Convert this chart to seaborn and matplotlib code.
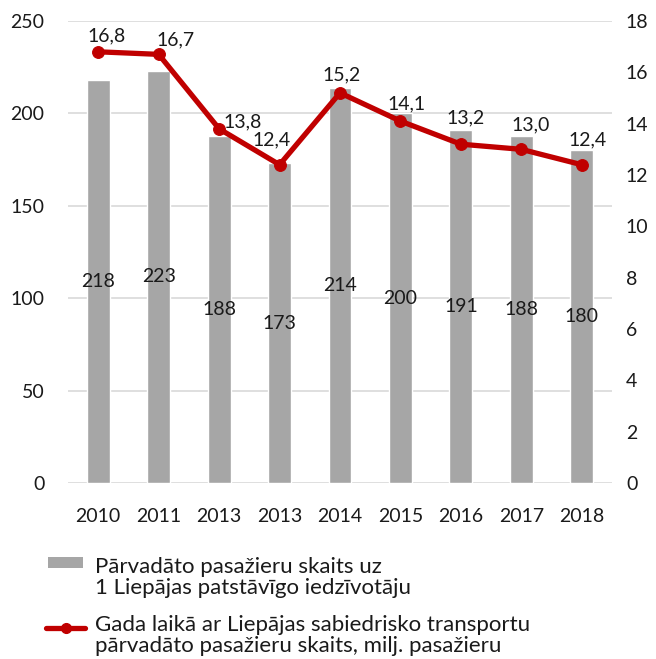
import numpy as np
import pandas as pd
import matplotlib
matplotlib.use("Agg")
import matplotlib.pyplot as plt
import seaborn as sns
from matplotlib.lines import Line2D
from matplotlib.patches import Rectangle

# dati
years = ["2010", "2011", "2013", "2013", "2014", "2015", "2016", "2017", "2018"]
per_resident = [218, 223, 188, 173, 214, 200, 191, 188, 180]
passengers_mln = [16.8, 16.7, 13.8, 12.4, 15.2, 14.1, 13.2, 13.0, 12.4]

bar_label = "Pārvadāto pasažieru skaits uz\n1 Liepājas patstāvīgo iedzīvotāju"
line_label = "Gada laikā ar Liepājas sabiedrisko transportu\npārvadāto pasažieru skaits, milj. pasažieru"

# line label nudges (pixels), as placed in the original
label_nudge = [(8, 16), (17, 14), (24, 7), (-8, 25), (2, 18),
               (6, 17), (5, 26), (9, 24), (6, 25)]

df = pd.DataFrame({
    "pos": range(len(years)),
    "year": years,
    "per_resident": per_resident,
    "passengers": passengers_mln,
})

sns.set_theme(style="white")
plt.rcParams["font.family"] = ["Lato", "DejaVu Sans"]
plt.rcParams["font.size"] = 14

BAR = "#a6a6a6"
RED = "#c00000"
GRID = "#d9d9d9"
TXT = "#1a1a1a"
FS = 14

W, H = 656, 659
fig = plt.figure(figsize=(W / 100, H / 100), dpi=100)
ax = fig.add_axes([68 / W, 1 - 483 / H, 544 / W, 462 / H])

sns.barplot(data=df, x="pos", y="per_resident", color=BAR, width=0.38,
            saturation=1, ax=ax, zorder=2)
ax.set_ylim(0, 250)
ax.set_yticks(range(0, 251, 50))
ax.yaxis.grid(True, color=GRID, linewidth=1.2, zorder=0)
ax.set_axisbelow(True)
ax.set_xticks(df["pos"])
ax.set_xticklabels(df["year"])
ax.set_xlabel("")
ax.set_ylabel("")
for s in ax.spines.values():
    s.set_visible(False)
ax.tick_params(axis="both", length=0, labelsize=FS, colors=TXT)
ax.tick_params(axis="y", pad=17)
ax.tick_params(axis="x", pad=18)

for p, v in zip(df["pos"], df["per_resident"]):
    ax.text(p, v / 2, str(v), ha="center", va="center", fontsize=FS, color=TXT, zorder=3)

ax2 = ax.twinx()
sns.lineplot(data=df, x="pos", y="passengers", color=RED, linewidth=3.8,
             marker="o", markersize=8.5, markeredgecolor=RED, ax=ax2, zorder=4)
ax2.set_ylim(0, 18)
ax2.set_yticks(range(0, 19, 2))
ax2.set_ylabel("")
ax2.set_xlabel("")
for s in ax2.spines.values():
    s.set_visible(False)
ax2.tick_params(axis="y", length=0, labelsize=FS, colors=TXT, pad=10)
ax.set_xlim(-0.5, len(years) - 0.5)

for p, v, (dx, dy) in zip(df["pos"], df["passengers"], label_nudge):
    ax2.annotate(f"{v:.1f}".replace(".", ","), (p, v), xytext=(dx, dy),
                 textcoords="offset pixels", ha="center", va="center",
                 fontsize=FS, color=TXT, zorder=5)

# legenda zem grafika
fig.add_artist(Rectangle((48 / W, 1 - 568 / H), 35 / W, 11 / H,
                         facecolor=BAR, edgecolor="none", transform=fig.transFigure))
fig.add_artist(Line2D([46 / W, 85 / W], [1 - 628 / H, 1 - 628 / H], color=RED,
                      linewidth=3.8, solid_capstyle="round", transform=fig.transFigure))
fig.add_artist(Line2D([65.5 / W], [1 - 628 / H], color=RED, marker="o",
                      markersize=7, transform=fig.transFigure))
fig.text(95 / W, 1 - 577.5 / H, bar_label, ha="left", va="center",
         fontsize=16, color=TXT, linespacing=1.1)
fig.text(95 / W, 1 - 635.5 / H, line_label, ha="left", va="center",
         fontsize=16, color=TXT, linespacing=1.1)

fig.savefig("out.png", dpi=100)
